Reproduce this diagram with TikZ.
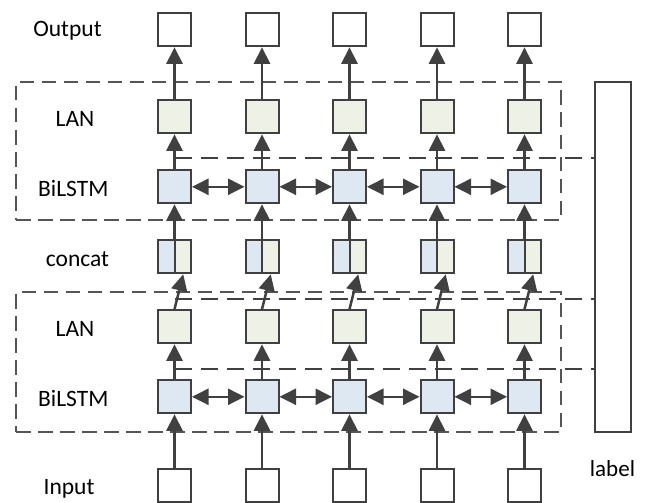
\documentclass[tikz,border=0pt]{standalone}
\usepackage{fontspec}
\setmainfont{Carlito}
\usetikzlibrary{arrows.meta,calc}
\definecolor{ink}{HTML}{404040}
\definecolor{cellblue}{HTML}{DEE8F2}
\definecolor{cellgreen}{HTML}{EEF1E6}
\definecolor{framegray}{HTML}{555555}
\begin{document}
\begin{tikzpicture}[x=1pt,y=-1pt,
  cell/.style={draw=ink,line width=2pt,minimum size=33pt,inner sep=0pt},
  plaincell/.style={cell,fill=white},
  lancell/.style={cell,fill=cellgreen},
  lstmcell/.style={cell,fill=cellblue},
  catcell/.style={cell,path picture={
      \fill[cellblue] (path picture bounding box.south west) rectangle (path picture bounding box.north);
      \fill[cellgreen] (path picture bounding box.south) rectangle (path picture bounding box.north east);}},
  tip/.tip={Triangle[length=16.5pt,width=16pt]},
  arr/.style={draw=ink,line width=2.5pt,-tip},
  biarr/.style={draw=ink,line width=2.5pt,tip-tip},
  frame/.style={draw=framegray,line width=1.5pt,dash pattern=on 14.5pt off 7.5pt,inner sep=0pt},
  feed/.style={draw=ink,line width=2.6pt,dash pattern=on 17pt off 9pt},
  layertext/.style={anchor=base,font=\fontsize{23.5}{28}\selectfont,inner sep=0pt}
]
\useasboundingbox (0,0) rectangle (646,503);

% row labels
\node[layertext] (tOut) at (67.5,37) {Output};
\node[layertext] (tLan2) at (75,126) {LAN};
\node[layertext] (tLstm2) at (73.3,196) {BiLSTM};
\node[layertext] (tCat) at (77.5,266) {concat};
\node[layertext] (tLan1) at (75,336) {LAN};
\node[layertext] (tLstm1) at (73.3,406) {BiLSTM};
\node[layertext] (tIn) at (69,494) {Input};
\node[layertext,font=\fontsize{23}{26}\selectfont] (tLbl) at (612.5,476) {label};

% dashed frames around the two LAN/BiLSTM blocks
\node[frame,minimum width=545pt,minimum height=138pt] (frameTop) at (288.5,151) {};
\node[frame,minimum width=545pt,minimum height=140pt] (frameBot) at (288.5,362) {};

% label column
\node[draw=ink,line width=1.6pt,fill=white,minimum width=36pt,minimum height=350pt,inner sep=0pt] (lbl) at (613,257) {};

% feedback lines from the label column
\coordinate (fbA) at (174.5,158);
\coordinate (fbB) at (174.5,299);
\coordinate (fbC) at (174.5,369);
\draw[feed] (fbA) -- (fbA -| lbl.west);
\draw[feed] (fbB) -- (fbB -| lbl.west);
\draw[feed] (fbC) -- (fbC -| lbl.west);

% cells, one column per time step
\foreach \i/\x in {1/174.5,2/262,3/349.5,4/437,5/524.5}{
  \node[plaincell] (out\i) at (\x,29.8) {};
  \node[lancell]   (lanB\i) at (\x,116.8) {};
  \node[lstmcell]  (lstmB\i) at (\x,186.8) {};
  \node[catcell]   (cat\i) at (\x,256.8) {};
  \node[lancell]   (lanA\i) at (\x,326.8) {};
  \node[lstmcell]  (lstmA\i) at (\x,396.8) {};
  \node[plaincell] (in\i) at (\x,485) {};
  \draw[ink,line width=2pt] (cat\i.north) -- (cat\i.south);
  % vertical data flow
  \draw[arr] (in\i.north) -- (lstmA\i.south);
  \draw[arr] (lstmA\i.north) -- (lanA\i.south);
  \draw[arr] (lanA\i.north) -- ($(cat\i.south)!0.5!(cat\i.south east)$);
  \draw[arr] (cat\i.north) -- (lstmB\i.south);
  \draw[arr] (lstmB\i.north) -- (lanB\i.south);
  \draw[arr] (lanB\i.north) -- (out\i.south);
}

% bidirectional links between neighbouring BiLSTM cells
\foreach \i/\j in {1/2,2/3,3/4,4/5}{
  \draw[biarr] (lstmA\i.east) -- (lstmA\j.west);
  \draw[biarr] (lstmB\i.east) -- (lstmB\j.west);
}
\end{tikzpicture}
\end{document}
